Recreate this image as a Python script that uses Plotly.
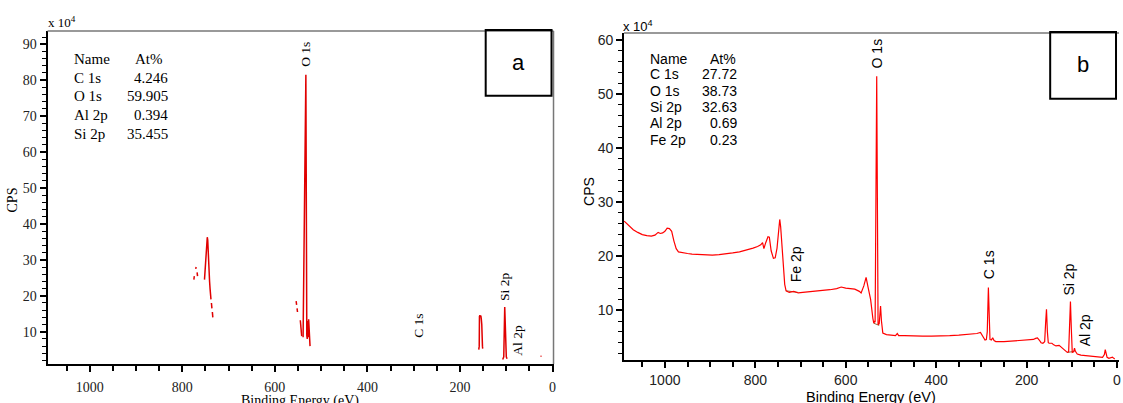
import plotly.graph_objects as go

# ---------------- data ----------------
# Panel a: survey spectrum (rendered with gaps in the original)
a_energy = [775, 774, None, 771, 770, None, 768, 767, None,
            752, 751, 750, 749, 748, 747, 746, 745, 744, 743, 742, 741, 740, 739, 738, None,
            737, 736, None, 735, 734, None,
            554, 553, None, 552, 551, None,
            545, 544, 543, 542, None,
            539, 533, 531, 530, 529, 528, 527, 526, 525, 524, None,
            159.5, 158.5, 158, 157, 156, 155, 154, 153, 151.5, 151, None,
            107.8, 105.5, 103.4, 102, 100, 98.4, None,
            26, 24]
a_cps = [24.5, 25.5, None, 27.5, 28, None, 26.5, 25.5, None,
         24.5, 27, 30, 31.5, 34, 36, 36.3, 35.5, 31, 29, 28, 24, 22, 20.5, 19, None,
         18, 16.5, None, 15.5, 14, None,
         18.5, 17.5, None, 16.5, 15.5, None,
         13.2, 11, 9, 8.8, None,
         8.5, 81.5, 9, 8, 13, 8.5, 13.5, 10, 7.5, 6, None,
         5, 6, 14.3, 14.6, 14.2, 14.5, 13.5, 12, 6, 5.3, None,
         2.3, 3, 16.9, 8, 3, 2.5, None,
         3.2, 3.2]

# Panel b: survey spectrum
b_energy = [1090, 1080, 1070, 1060, 1050, 1040, 1030, 1022, 1015, 1010, 1005, 1000, 995, 990, 985,
            980, 975, 970, 960, 950, 940, 925, 910, 895, 880, 865, 850, 835, 820, 805, 795,
            788, 784, 781, 777, 772, 769, 765, 760, 756, 752, 749, 746, 744, 741, 738, 735,
            732, 725, 715, 705, 695, 680, 665, 650, 635, 620, 610, 600, 590, 580, 570, 566,
            560, 555, 550, 545, 540, 538, 536, 535, 531.5, 528.5, 526, 523, 521, 518, 510,
            500, 490, 486, 483, 470, 450, 430, 410, 390, 370, 350, 330, 310, 302, 297, 292,
            289, 287, 284.5, 282, 281, 278, 275, 272, 268, 250, 230, 210, 195, 185, 180, 176,
            172, 168, 164, 160, 158, 156, 154, 152, 150, 147, 144, 140, 135, 128, 122, 115,
            110, 107, 105, 103, 101, 99, 96, 94, 92, 88, 80, 70, 60, 50, 40, 32, 28, 26,
            24, 22, 18, 14, 10, 7, 5]
b_cps = [26.5, 25.6, 24.9, 24.4, 24.0, 23.8, 23.7, 23.9, 24.4, 24.2, 24.3, 24.6, 25.2, 25.1, 24.6,
         22.8, 21.4, 20.8, 20.6, 20.5, 20.4, 20.3, 20.3, 20.2, 20.3, 20.4, 20.6, 20.8, 21.1, 21.5, 21.8,
         22.1, 22.5, 21.4, 22.5, 23.6, 23.5, 21.0, 19.6, 19.7, 21.5, 24.5, 26.8, 25.5, 22.0, 17.5, 14.8,
         13.6, 13.3, 13.5, 13.2, 13.3, 13.4, 13.6, 13.7, 13.8, 14.0, 14.3, 14.1, 14.0, 13.9, 13.5, 13.2,
         14.5, 16.1, 14.0, 12.0, 8.5, 7.6, 8.0, 7.8, 53.3, 7.3, 7.5, 10.8, 8.0, 5.8, 5.5,
         5.4, 5.3, 5.7, 5.3, 5.3, 5.2, 5.2, 5.2, 5.2, 5.3, 5.4, 5.5, 5.7, 5.9, 5.2, 4.5,
         4.6, 6.0, 14.2, 6.5, 4.6, 4.5, 4.9, 4.4, 4.2, 4.2, 4.3, 4.4, 4.5, 4.6, 4.8, 4.9,
         4.5, 4.0, 3.9, 4.2, 7.5, 10.2, 6.0, 4.0, 3.9, 3.9, 3.9, 3.6, 3.4, 3.5, 3.0, 2.5,
         2.2, 2.3, 6.0, 11.6, 6.5, 2.2, 2.3, 3.0, 2.4, 1.9, 1.7, 1.6, 1.5, 1.4, 1.3, 1.3, 1.8, 2.7,
         2.0, 1.3, 1.1, 1.2, 1.3, 1.1, 1.0]

# Panel b: background (baseline) segments
bg_energy = [732, 705, None, 538, 526, None, 110, 94]
bg_cps = [13.6, 13.3, None, 7.6, 7.2, None, 2.2, 2.4]

# Quantification tables
names_a = ["C 1s", "O 1s", "Al 2p", "Si 2p"]
at_a = ["4.246", "59.905", "0.394", "35.455"]
names_b = ["C 1s", "O 1s", "Si 2p", "Al 2p", "Fe 2p"]
at_b = ["27.72", "38.73", "32.63", "0.69", "0.23"]

# Peak labels
peaks_a = ["O 1s", "C 1s", "Si 2p", "Al 2p"]
peaks_b = ["O 1s", "C 1s", "Si 2p", "Al 2p", "Fe 2p"]

# ---------------- figure ----------------
W, H = 1123, 403
def px(x):
    return x / W
def py(y):
    return 1 - y / H

SERIF = "Liberation Serif, Times New Roman, serif"
SANS = "Liberation Sans, Arial, sans-serif"

fig = go.Figure()
fig.add_trace(go.Scatter(x=a_energy, y=a_cps, mode="lines", connectgaps=False,
                         line=dict(color="#e00000", width=1.5), xaxis="x", yaxis="y",
                         hoverinfo="skip"))
fig.add_trace(go.Scatter(x=bg_energy, y=bg_cps, mode="lines", connectgaps=False,
                         line=dict(color="#8b6b3d", width=1), xaxis="x2", yaxis="y2",
                         hoverinfo="skip"))
fig.add_trace(go.Scatter(x=b_energy, y=b_cps, mode="lines",
                         line=dict(color="#ff0000", width=1.2), xaxis="x2", yaxis="y2",
                         hoverinfo="skip"))

def xax(domain, rng, font, anchor, standoff):
    return dict(domain=domain, range=rng, anchor=anchor, showline=True, linecolor="black",
                linewidth=2, ticks="outside", ticklen=6, tickwidth=1.5, tickcolor="black",
                dtick=200, tick0=0, showgrid=False, zeroline=False,
                tickfont=dict(family=font, size=14, color="#222"), ticklabelstandoff=standoff,
                minor=dict(ticks="outside", dtick=50, tick0=0, ticklen=5, tickwidth=1.5,
                           tickcolor="black", showgrid=False))

def yax(domain, rng, font, anchor):
    return dict(domain=domain, range=rng, anchor=anchor, showline=True, linecolor="black",
                linewidth=2, ticks="outside", ticklen=6, tickwidth=1.5, tickcolor="black",
                dtick=10, tick0=0, showgrid=False, zeroline=False,
                tickfont=dict(family=font, size=14, color="#222"),
                minor=dict(ticks="outside", dtick=2, tick0=0, ticklen=4, tickwidth=1.2,
                           tickcolor="black", showgrid=False))

fig.update_layout(
    width=W, height=H, margin=dict(l=0, r=0, t=0, b=0),
    paper_bgcolor="white", plot_bgcolor="white", showlegend=False,
    xaxis=xax([px(47.7), px(555)], [1091, -2], SERIF, "y", 3),
    yaxis=yax([py(364), py(30)], [1, 93.7], SERIF, "x"),
    xaxis2=xax([px(625.7), px(1122)], [1090.4, -4.4], SANS, "y2", 0),
    yaxis2=yax([py(360), py(32)], [0.78, 61.3], SANS, "x2"),
)

shapes = [
    dict(type="line", xref="x domain", yref="y domain", x0=0, x1=1, y0=1, y1=1,
         line=dict(color="#777", width=1.5)),
    dict(type="line", xref="x domain", yref="y domain", x0=1, x1=1, y0=0, y1=1,
         line=dict(color="#777", width=1.5)),
    dict(type="line", xref="x2 domain", yref="y2 domain", x0=0, x1=1, y0=1, y1=1,
         line=dict(color="#777", width=1.5)),
    dict(type="rect", xref="paper", yref="paper", x0=px(487), x1=px(553), y0=py(95), y1=py(29),
         line=dict(color="black", width=2)),
    dict(type="rect", xref="paper", yref="paper", x0=px(1053), x1=px(1119), y0=py(98), y1=py(31),
         line=dict(color="black", width=2)),
]
fig.update_layout(shapes=shapes)

ann = []
def A(text, x, y, font, size, xanchor="center", yanchor="middle", angle=0, xref="paper", yref="paper"):
    ann.append(dict(text=text, x=x, y=y, xref=xref, yref=yref, showarrow=False,
                    xanchor=xanchor, yanchor=yanchor, textangle=angle,
                    font=dict(family=font, size=size, color="black")))

# panel labels
A("a", px(520), py(62), SANS, 22)
A("b", px(1086), py(64), SANS, 22)

# x10^4
A("x 10<sup>4</sup>", px(46), py(21), SERIF, 13, xanchor="left")
A("x 10<sup>4</sup>", px(623), py(25), SANS, 13, xanchor="left")

# axis titles
A("CPS", px(13), py(199), SERIF, 14, angle=-90)
A("CPS", px(590), py(191), SANS, 14, angle=-90)
A("Binding Energy (eV)", px(301), py(401), SERIF, 14)
A("Binding Energy (eV)", px(873), py(397), SANS, 14.5)

# tables
A("Name", px(72), py(58.3), SERIF, 15, xanchor="left")
A("At%", px(133), py(58.3), SERIF, 15, xanchor="left")
for i, (n, v) in enumerate(zip(names_a, at_a)):
    yy = 76.7 + i * 18.9
    A(n, px(72), py(yy), SERIF, 15, xanchor="left")
    A(v, px(170), py(yy), SERIF, 15, xanchor="right")

A("Name", px(650), py(57.7), SANS, 14, xanchor="left")
A("At%", px(710), py(57.7), SANS, 14, xanchor="left")
for i, (n, v) in enumerate(zip(names_b, at_b)):
    yy = 73.5 + i * 16.4
    A(n, px(650), py(yy), SANS, 14, xanchor="left")
    A(v, px(741), py(yy), SANS, 14, xanchor="right")

# peak labels (data coordinates)
pos_a = {"O 1s": (533, 87.3), "C 1s": (289, 11.6), "Si 2p": (105.6, 22.4), "Al 2p": (77.6, 7.7)}
for p in peaks_a:
    A(p, pos_a[p][0], pos_a[p][1], SERIF, 13.5, angle=-90, xref="x", yref="y")
pos_b = {"O 1s": (532, 57.6), "C 1s": (283.5, 18.5), "Si 2p": (105.9, 15.7),
         "Al 2p": (70.6, 6.3), "Fe 2p": (710, 18.5)}
for p in peaks_b:
    A(p, pos_b[p][0], pos_b[p][1], SANS, 14, angle=-90, xref="x2", yref="y2")

fig.update_layout(annotations=ann)
fig.write_html("out.html", config={"displayModeBar": False},
               post_script="document.body.style.margin='0';document.body.style.overflow='hidden';")
